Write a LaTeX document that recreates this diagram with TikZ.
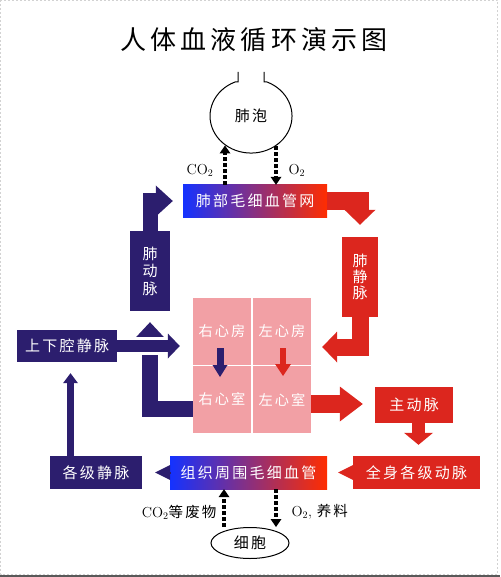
\documentclass[tikz,border=0pt]{standalone}
\usepackage{fontspec}
\newfontfamily\cjk[LetterSpace=15]{Noto Sans CJK SC}
\newfontfamily\cjktitle[LetterSpace=16]{Noto Sans CJK SC}
\usetikzlibrary{arrows.meta,calc,shapes.geometric}
\definecolor{venous}{RGB}{44,30,110}
\definecolor{arterial}{RGB}{220,38,30}
\definecolor{heartpink}{RGB}{242,160,165}
\definecolor{capblue}{RGB}{20,50,255}
\definecolor{capred}{RGB}{255,45,0}

\begin{document}
\begin{tikzpicture}[x=1pt,y=-1pt]

    \tikzset{
      vessel/.style={
        minimum height=33pt,
        inner sep=0pt,
        text=white,
        font=\cjk\fontsize{15}{18}\selectfont,
      },
      vein/.style={vessel, fill=venous},
      artery/.style={vessel, fill=arterial},
      capillary/.style={vessel, left color=capblue, right color=capred},
      chamber/.style={
        fill=heartpink,
        minimum width=58pt,
        minimum height=67pt,
        inner sep=0pt,
        text=white,
        font=\cjk\fontsize{14.2}{16}\selectfont,
      },
      flow/.style={line width=#1, line join=miter},
      gas/.style={black, line width=3.5pt, dash pattern=on 4pt off 2pt,
        -{Triangle[length=8pt,width=11pt,line width=0pt]}},
      gaslabel/.style={font=\fontsize{14.5}{16}\selectfont},
    }
    \useasboundingbox (0,0) rectangle (500,577);
    \draw[gray!35, dash pattern=on 2pt off 2pt] (0.5,0.5) rectangle (497.5,574);
    \draw[gray!70!black, line width=2pt] (0,576) -- (500,576);

    \node[font=\cjktitle\fontsize{26}{30}\selectfont] (title) at (254,40) {人体血液循环演示图};

    % lung and cell
    \node[ellipse, minimum width=82pt, minimum height=74pt, inner sep=0pt, outer sep=0pt,
      font=\cjk\fontsize{15}{18}\selectfont] (alv) at (251,116) {肺泡};
    \draw[line width=1pt] (238,72) -- (238,82) -- (235,82) arc[start angle=247, end angle=-67, x radius=41, y radius=37] -- (264,82) -- (264,72);
    \node[ellipse, draw, line width=1pt, minimum width=78pt, minimum height=31pt, inner sep=0pt,
      font=\cjk\fontsize{15}{18}\selectfont] (cell) at (250,543) {细胞};

    % vessels
    \node[capillary, minimum width=144pt, minimum height=32pt] (pcap) at (255,201) {肺部毛细血管网};
    \node[vein, minimum width=40pt, minimum height=80pt, align=center,
      font=\cjk\fontsize{15}{17.5}\selectfont] (pa) at (150,271) {肺\\动\\脉};
    \node[artery, minimum width=36pt, minimum height=80pt, align=center,
      font=\cjk\fontsize{15}{16}\selectfont] (pv) at (360,277) {肺\\静\\脉};
    \node[vein, minimum width=100pt, minimum height=32pt] (vc) at (67,346) {上下腔静脉};
    \node[artery, minimum width=78pt, minimum height=36pt] (ao) at (414,405) {主动脉};
    \node[artery, minimum width=127pt] (sa) at (416.5,472.5) {全身各级动脉};
    \node[capillary, minimum width=157pt] (tc) at (248.5,472.5) {组织周围毛细血管};
    \node[vein, minimum width=92pt] (sv) at (96,472.5) {各级静脉};

    % heart
    \node[chamber] (ra) at (222,331.5) {右心房};
    \node[chamber] (la) at (282,331.5) {左心房};
    \node[chamber] (rv) at (222,399.5) {右心室};
    \node[chamber] (lv) at (282,399.5) {左心室};

    % pulmonary circulation
    \draw[venous, flow=15pt, -{Triangle[length=17pt,width=31pt,line width=0pt]}, shorten >=10pt]
      (pa.north) |- (pcap.west);
    \draw[arterial, flow=18pt, -{Triangle[length=15pt,width=31pt,line width=0pt]}, shorten >=12pt]
      (pcap.east) -| (pv.north);
    \draw[arterial, flow=17pt, -{Triangle[length=15pt,width=31pt,line width=0pt]}, shorten >=11pt]
      (pv.south) |- ($(la.east)+(0,15.5)$);
    \draw[venous, flow=16pt, -{Triangle[length=15pt,width=28pt,line width=0pt]}, shorten >=11pt]
      ($(rv.west)+(0,9.5)$) -| (pa.south);

    % systemic circulation
    \draw[white, flow=18pt, -{Triangle[length=16pt,width=31pt,line width=0pt]}, shorten >=11pt]
      (vc.east) -- (vc.east -| ra.west);
    \draw[venous, flow=12pt, -{Triangle[length=12pt,width=25pt,line width=0pt]}, shorten >=13pt]
      (vc.east) -- (vc.east -| ra.west);
    \draw[arterial, flow=18pt, -{Triangle[length=23pt,width=35pt,line width=0pt]}, shorten >=12pt]
      ([yshift=-4.5pt]lv.east) -- ([yshift=-4.5pt]lv.east -| ao.west);
    \draw[arterial, flow=13pt, -{Triangle[length=12pt,width=29pt,line width=0pt]}, shorten >=11pt]
      ([xshift=4.5pt]ao.south) -- ([xshift=4.5pt]ao.south |- sa.north);
    \draw[arterial, flow=2pt, -{Triangle[length=15pt,width=15pt,line width=0pt]}, shorten >=11pt]
      (sa.west) -- (tc.east);
    \draw[venous, flow=2pt, -{Triangle[length=15pt,width=15pt,line width=0pt]}, shorten >=13pt]
      (tc.west) -- (sv.east);
    \draw[venous, flow=7pt, -{Triangle[length=10pt,width=15pt,line width=0pt]}, shorten >=11pt]
      ([xshift=3.5pt]vc.south |- sv.north) -- ([xshift=3.5pt]vc.south);

    % inside the heart
    \draw[venous, flow=7pt, -{Triangle[length=12pt,width=15pt,line width=0pt]}]
      ([shift={(-2,16.5)}]ra.center) -- ([shift={(-2,-22.5)}]rv.center);
    \draw[arterial, flow=6pt, -{Triangle[length=12pt,width=16pt,line width=0pt]}]
      ([shift={(1,16.5)}]la.center) -- ([shift={(1,-23.5)}]lv.center);

    % gas exchange
    \draw[gas] ([xshift=-30pt]pcap.north) -- ([xshift=-30pt]pcap.north |- alv.-130);
    \draw[gas] ([xshift=21pt]pcap.north |- alv.-52) -- ([xshift=21pt]pcap.north);
    \node[gaslabel, anchor=east] (co2up) at (217,170) {CO$_2$};
    \node[gaslabel, anchor=west] (o2up) at (285,170) {O$_2$};
    \draw[gas] ([xshift=-26pt]cell.north) -- ([xshift=-26pt]cell.north |- tc.south);
    \draw[gas] ([xshift=26pt]cell.north |- tc.south) -- ([xshift=26pt]cell.north);
    \node[gaslabel, anchor=east] (waste) at (220,512) {CO$_2${\cjk\fontsize{14.5}{16}\selectfont 等废物}};
    \node[gaslabel, anchor=west] (nutrient) at (288,512) {O$_2$, {\cjk\fontsize{14.5}{16}\selectfont 养料}};

\end{tikzpicture}
\end{document}
